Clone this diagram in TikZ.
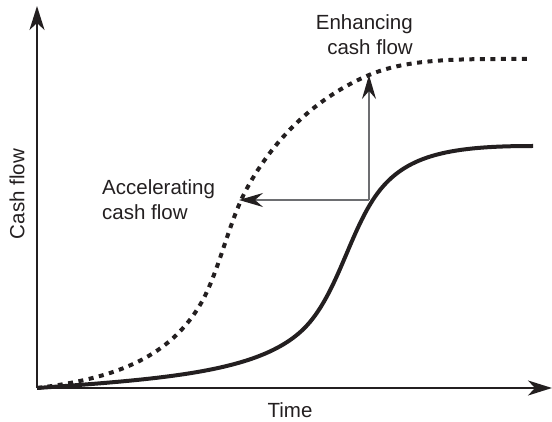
\documentclass[tikz,border=0pt]{standalone}
\usepackage{fontspec}
\setmainfont{Liberation Sans}
\usetikzlibrary{arrows.meta}
\definecolor{ink}{HTML}{231F20}
\definecolor{guide}{HTML}{6D6E71}
\begin{document}
\begin{tikzpicture}[x=1pt,y=-1pt,
  lbl/.style={font=\fontsize{20.5}{25}\selectfont, text=ink, inner sep=0pt},
  axis/.style={draw=ink, line width=2.2pt, -{Stealth[length=24pt,width=15pt,inset=7pt]}},
  guidearrow/.style={draw=guide, line width=1.3pt, -{Stealth[length=24pt,width=14pt,inset=8pt,fill=ink,color=ink]}},
  solidcurve/.style={draw=ink, line width=4pt},
  dashcurve/.style={draw=ink, line width=4pt, dash pattern=on 5pt off 5.5pt}]
\useasboundingbox (0,0) rectangle (552,422);
\coordinate (O) at (37,388);
\coordinate (Ytop) at (37,6);
\coordinate (Xend) at (552,388);
\coordinate (P) at (369,200);
\coordinate (Q) at (369,75);
\coordinate (R) at (239,200);
% curves
\draw[solidcurve] (37,388) .. controls (180,378) and (270,370) .. (310,322)
  .. controls (340,286) and (352,225) .. (380,190)
  .. controls (408,155) and (450,146) .. (533,146);
\draw[dashcurve] (37,388) .. controls (120,378) and (170,355) .. (200,305)
  .. controls (218,275) and (228,225) .. (245,192)
  .. controls (269,146) and (310,100) .. (369,75)
  .. controls (410,58) and (460,59) .. (530,59);
% axes
\draw[axis] (O) -- (Ytop);
\draw[axis] (O) -- (Xend);
% guide arrows
\draw[guidearrow] (P) -- (Q);
\draw[guidearrow] (P) -- (R);
% labels
\node[lbl, align=right, anchor=east] (enh) at (413,35) {Enhancing\\cash flow};
\node[lbl, align=left, anchor=west] (acc) at (102,200) {Accelerating\\cash flow};
\node[lbl] (time) at (290,410) {Time};
\node[lbl, rotate=90] (cf) at (17,194) {Cash flow};
\end{tikzpicture}
\end{document}
